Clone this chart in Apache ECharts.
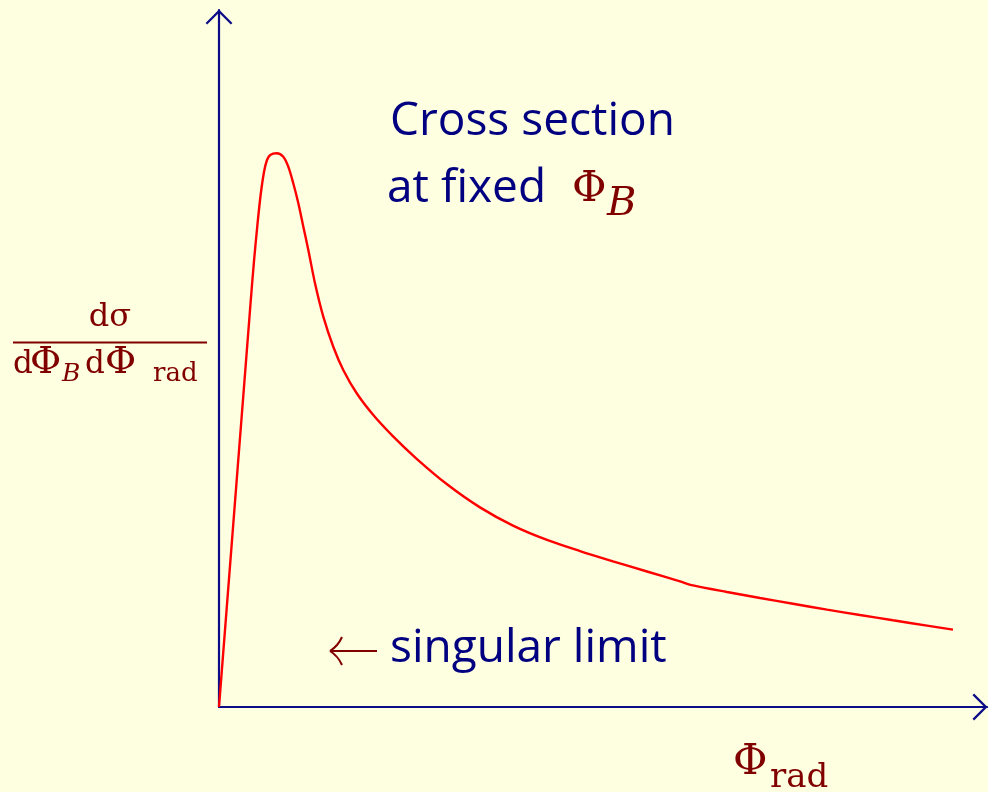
<!DOCTYPE html>
<html>
<head>
<meta charset="utf-8">
<script src="https://cdn.jsdelivr.net/npm/echarts@6/dist/echarts.min.js"></script>
<style>
  html, body { margin: 0; padding: 0; background: #fefee0; }
  #chart { width: 988px; height: 792px; }
</style>
</head>
<body>
<div id="chart"></div>
<script>
// curve (x: 0..100 along the axis, y: 0..100 up the axis)
const xVals = [0, 4.14, 4.57, 5.00, 5.42, 5.86, 6.25, 6.67, 7.51, 8.37, 9.02, 9.67, 10.33,
    10.98, 11.63, 12.50, 13.58, 14.88, 16.18, 17.93, 20.09, 22.70, 25.74, 29.69, 33.98, 38.28, 42.71,
    47.01, 51.30, 55.73, 60.03, 61.72, 66.15, 70.44, 74.74, 79.17, 83.46, 87.76, 92.19, 95.57];
const yVals = [0, 58.39, 64.13, 69.15, 73.46, 76.76, 78.48, 79.20, 79.44, 78.95, 77.52, 75.14, 72.27,
    68.91, 65.57, 60.79, 56.00, 51.69, 48.35, 45.01, 41.89, 38.79, 35.61, 31.95, 28.64, 26.03, 23.97,
    22.37, 20.90, 19.44, 18.02, 17.45, 16.50, 15.64, 14.81, 13.97, 13.20, 12.44, 11.68, 11.11];

const navy = '#000080';
const axisColor = '#0c0c88';
const maroon = '#800000';
const red = '#ff0000';

const sans = '"Open Sans", "Liberation Sans", sans-serif';
const serif = '"DejaVu Serif", serif';

// open chevron used as the arrow head of both axes
const chevron = 'path://M13.5,0 L27,13.5 L25.4,15.1 L13.5,3.2 L1.6,15.1 L0,13.5 Z';

// text placed by its left edge and baseline
function t(x, base, str, size, family, color, italic, align) {
    return {
        type: 'text',
        x: x,
        y: base - 0.347 * size,
        style: {
            text: str,
            font: (italic ? 'italic ' : '') + size + 'px ' + family,
            fill: color,
            align: align || 'left',
            verticalAlign: 'middle'
        }
    };
}

const chart = echarts.init(document.getElementById('chart'));

const axisCommon = {
    type: 'value',
    min: 0,
    max: 100,
    axisLine: {
        show: true,
        symbol: ['none', chevron],
        symbolSize: [27, 15],
        symbolOffset: [0, -7],
        lineStyle: { color: axisColor, width: 2.2 }
    },
    axisTick: { show: false },
    axisLabel: { show: false },
    splitLine: { show: false }
};

chart.setOption({
    animation: false,
    backgroundColor: '#fefee0',
    grid: { left: 219, top: 10, right: 1, bottom: 85 },
    xAxis: axisCommon,
    yAxis: axisCommon,
    series: [{
        type: 'line',
        data: xVals.map((x, i) => [x, yVals[i]]),
        showSymbol: false,
        smooth: 0.3,
        lineStyle: { color: red, width: 2.4 }
    }],
    graphic: [
        t(390, 138, 'Cross section', 46, sans, navy),
        t(387, 205, 'at fixed', 46, sans, navy),
        t(572, 205, 'Φ', 42, serif, maroon),
        t(607, 218, 'B', 40, serif, maroon, true),
        t(390, 665, 'singular limit', 46, sans, navy),

        // arrow in front of "singular limit"
        { type: 'line', shape: { x1: 332, y1: 651, x2: 377, y2: 651 }, style: { stroke: maroon, lineWidth: 2 } },
        { type: 'bezierCurve', shape: { x1: 330, y1: 651, cpx1: 338, cpy1: 646, x2: 342, y2: 637 }, style: { stroke: maroon, lineWidth: 2, fill: null } },
        { type: 'bezierCurve', shape: { x1: 330, y1: 651, cpx1: 338, cpy1: 656, x2: 342, y2: 665 }, style: { stroke: maroon, lineWidth: 2, fill: null } },

        // y axis label: dσ / dΦ_B dΦ_rad
        t(110, 329, 'dσ', 32, serif, maroon, false, 'center'),
        { type: 'line', shape: { x1: 13, y1: 342.5, x2: 207, y2: 342.5 }, style: { stroke: maroon, lineWidth: 2 } },
        t(13, 376, 'd', 31, serif, maroon),
        t(30, 376, 'Φ', 38, serif, maroon),
        t(62, 383, 'B', 25, serif, maroon, true),
        t(85, 376, 'd', 31, serif, maroon),
        t(105, 376, 'Φ', 38, serif, maroon),
        t(153, 383, 'rad', 26, serif, maroon),

        // x axis label: Φ_rad
        t(733, 778, 'Φ', 42, serif, maroon),
        t(770, 790, 'rad', 34, serif, maroon)
    ]
});
</script>
</body>
</html>
